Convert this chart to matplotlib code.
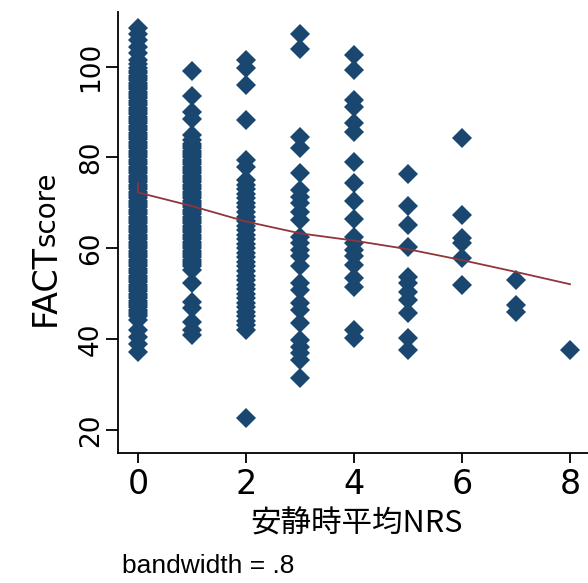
import matplotlib
matplotlib.use("Agg")
import matplotlib.pyplot as plt
import numpy as np

# FACT score by resting NRS, one list of scores per NRS value
nrs_levels = [0, 1, 2, 3, 4, 5, 6, 7, 8]
scores_nrs0 = [108.5, 107.3, 105.9, 104.4, 103.0, 101.5, 100.5, 99.6, 99, 98.5, 98, 97.5,
               97, 96.5, 96, 95.5, 95, 94.5, 94, 93.5, 93, 92.5, 92, 91.5, 91, 90.5, 90,
               89.5, 89, 88.5, 88, 87.5, 87, 86.5, 86, 85.5, 85, 84.5, 84, 83.5, 83, 82.5,
               82, 81.5, 81, 80.5, 80, 79.5, 79, 78.5, 78, 77.5, 77, 76.5, 76, 75.5, 75,
               74.5, 74, 73.5, 73, 72.5, 72, 71.5, 71, 70.5, 70, 69.5, 69, 68.5, 68, 67.5,
               67, 66.5, 66, 65.5, 65, 64.5, 64, 63.5, 63, 62.5, 62, 61.5, 61, 60.5, 60,
               59.5, 59, 58.5, 58, 57.5, 57, 56.5, 56, 55.5, 55, 54.5, 54, 53.5, 53, 52.5,
               52, 51.5, 51, 50.5, 50, 49.5, 49, 48.5, 48, 47.5, 47, 46.5, 46, 45.5, 45,
               44.2, 42.0, 40.5, 39.0, 37.2]
scores_nrs1 = [99.0, 93.5, 90.1, 88.4, 85.0, 83.9, 83, 82.5, 82, 81.5, 81, 80.5, 80, 79.5,
               79, 78.5, 78, 77.5, 77, 76.5, 76, 75.5, 75, 74.5, 74, 73.5, 73, 72.5, 72,
               71.5, 71, 70.5, 70, 69.5, 69, 68.5, 68, 67.5, 67, 66.5, 66, 65.5, 65, 64.5,
               64, 63.5, 63, 62.5, 62, 61.5, 61, 60.5, 60, 59.5, 59, 58.5, 58, 57.5, 57,
               56.5, 56, 55.2, 52.3, 48.2, 46.8, 43.8, 42.0, 40.9]
scores_nrs2 = [101.5, 99.6, 96.0, 88.3, 79.4, 78.0, 75, 74, 73, 72, 71, 70, 69, 68, 67, 66,
               65, 64, 63, 62, 61, 60, 59, 58, 57, 56, 55, 54, 53, 52, 51, 50, 49, 48, 47,
               46, 45, 44, 43.1, 42.0, 22.6]
scores_nrs3 = [107.3, 103.8, 84.6, 82.0, 76.5, 72.8, 71.4, 69.9, 68.1, 66.2, 62.6, 61.1,
               59.6, 58.2, 56.0, 52.3, 50.8, 47.9, 46.4, 43.5, 39.8, 38.3, 36.9, 35.4, 31.4]
scores_nrs4 = [102.6, 99.3, 92.7, 91.2, 87.5, 85.7, 78.9, 74.3, 70.4, 66.5, 62.6, 61.1,
               59.6, 58.2, 56.3, 53.4, 51.5, 42.0, 40.2]
scores_nrs5 = [76.4, 69.4, 65.1, 60.4, 53.7, 52.3, 50.4, 48.6, 45.7, 40.2, 37.6]
scores_nrs6 = [84.4, 67.3, 62.2, 61.1, 57.8, 51.9]
scores_nrs7 = [53.0, 47.5, 46.0]
scores_nrs8 = [37.6]
scores_by_nrs = [scores_nrs0, scores_nrs1, scores_nrs2, scores_nrs3, scores_nrs4,
                 scores_nrs5, scores_nrs6, scores_nrs7, scores_nrs8]

# lowess smooth (bandwidth .8)
lowess_x = [0, 0, 1, 2, 3, 4, 5, 6, 7, 8]
lowess_y = [74.3, 72.3, 69.3, 65.9, 63.3, 61.7, 59.8, 57.4, 54.8, 52.1]

NAVY = "#1a476f"
MAROON = "#90353b"

x_pts = np.concatenate([[lv] * len(s) for lv, s in zip(nrs_levels, scores_by_nrs)])
y_pts = np.concatenate(scores_by_nrs)

fig = plt.figure(figsize=(5.88, 5.83), dpi=100)
W, H = 588, 583
ax = fig.add_axes([117.7 / W, (H - 452.7) / H, (W - 117.7) / W, (452.7 - 11.7) / H])

ax.plot(x_pts, y_pts, "D", color=NAVY, ms=10, mew=0, zorder=2)
ax.plot(lowess_x, lowess_y, "-", color=MAROON, lw=1.3, zorder=3)

ax.set_xlim(-0.376, 8.333)
ax.set_ylim(15.0, 112.1)
ax.set_xticks([0, 2, 4, 6, 8])
ax.set_yticks([20, 40, 60, 80, 100])

for side in ("top", "right"):
    ax.spines[side].set_visible(False)
for side in ("left", "bottom"):
    ax.spines[side].set_linewidth(1.3)
    ax.spines[side].set_color("black")

ax.tick_params(axis="x", length=7, width=1.3, pad=4, labelsize=24)
ax.tick_params(axis="y", length=9, width=1.3, pad=1, labelsize=19)
for lab in ax.get_xticklabels():
    lab.set_fontfamily("DejaVu Sans")
for lab in ax.get_yticklabels():
    lab.set_fontfamily("DejaVu Sans")
    lab.set_rotation(90)
    lab.set_va("center")

# y title: "FACT" set larger than "score", sharing one baseline
fig.text(62 / W, 1 - 326 / H, "FACT", rotation=90, ha="right", va="bottom",
         fontsize=24, family=["DejaVu Sans"])
fig.text(61 / W, 1 - 246 / H, "score", rotation=90, ha="right", va="bottom",
         fontsize=20, family=["DejaVu Sans"])
fig.text(356 / W, 1 - 524 / H, "安静時平均NRS", ha="center", va="center",
         fontsize=22, family=["Noto Sans CJK JP"])
fig.text(122 / W, 1 - 566 / H, "bandwidth = .8", ha="left", va="center",
         fontsize=19, family=["Liberation Sans"])

fig.savefig("out.png", dpi=100, facecolor="white")
